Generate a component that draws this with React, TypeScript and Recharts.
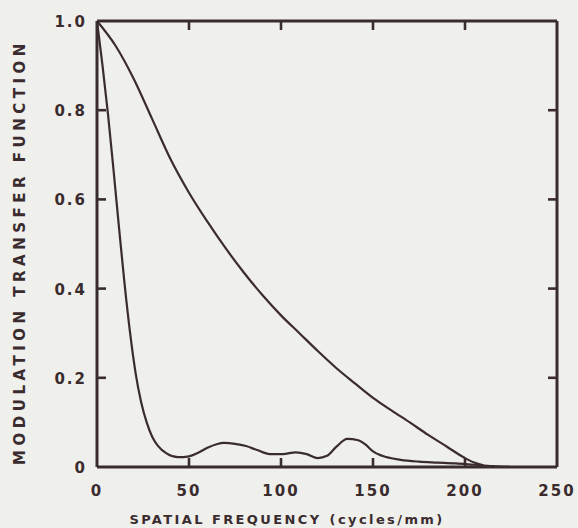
import React from 'react';
import { LineChart, Line, XAxis, YAxis } from 'recharts';

// wide curve (upper)
const wideFreq = [0, 10, 20, 30, 40, 50, 60, 70, 80, 90, 100, 110, 120, 130, 140, 150, 160, 170, 180, 190, 200, 205, 210];
const wideMtf = [1.0, 0.945, 0.87, 0.78, 0.69, 0.615, 0.55, 0.49, 0.435, 0.385, 0.34, 0.3, 0.26, 0.222, 0.188, 0.155, 0.127, 0.1, 0.072, 0.046, 0.02, 0.01, 0.004];

// narrow curve (lower, with ripples)
const narrowFreq = [0, 3, 6, 9, 12, 15, 18, 21, 24, 27, 30, 33, 38, 44, 50, 55, 60, 65, 69, 75, 81, 87, 94, 101, 108, 114, 120, 125, 130, 136, 142, 146, 150, 155, 165, 175, 185, 195, 205, 215, 225];
const narrowMtf = [1.0, 0.9, 0.79, 0.665, 0.535, 0.41, 0.3, 0.21, 0.145, 0.1, 0.068, 0.048, 0.03, 0.022, 0.024, 0.032, 0.043, 0.051, 0.054, 0.052, 0.047, 0.038, 0.029, 0.029, 0.033, 0.029, 0.02, 0.025, 0.045, 0.063, 0.06, 0.05, 0.035, 0.025, 0.016, 0.012, 0.01, 0.008, 0.005, 0.002, 0];

const xTicks = [0, 50, 100, 150, 200, 250];
const yTicks = [0, 0.2, 0.4, 0.6, 0.8, 1.0];

const wideData = wideFreq.map((f, i) => ({ f, v: wideMtf[i] }));
const narrowData = narrowFreq.map((f, i) => ({ f, v: narrowMtf[i] }));

const ink = '#3a2c2e';
const font = '"DejaVu Sans", sans-serif';
const tickLen = 9;
const tickW = 2.6;

const edgeX = (v: number) => v === xTicks[0] || v === xTicks[xTicks.length - 1];
const edgeY = (v: number) => v === yTicks[0] || v === yTicks[yTicks.length - 1];

const BottomTick = ({ x, y, payload }: any) => (
    <g>
        {!edgeX(payload.value) && <path d={`M${x},${y}V${y - tickLen}`} stroke={ink} strokeWidth={tickW} fill="none" />}
        <text x={x} y={y + 29} textAnchor="middle" fill={ink} fontFamily={font} fontWeight="bold" fontSize={15} letterSpacing={2}>
            {payload.value}
        </text>
    </g>
);

const TopTick = ({ x, y, payload }: any) => (
    <g>{!edgeX(payload.value) && <path d={`M${x},${y}V${y + tickLen}`} stroke={ink} strokeWidth={tickW} fill="none" />}</g>
);

const LeftTick = ({ x, y, payload }: any) => (
    <g>
        {!edgeY(payload.value) && <path d={`M${x},${y}H${x + tickLen}`} stroke={ink} strokeWidth={tickW} fill="none" />}
        <text x={x - 10} y={y + 6} textAnchor="end" fill={ink} fontFamily={font} fontWeight="bold" fontSize={15} letterSpacing={2}>
            {payload.value === 0 ? '0' : payload.value.toFixed(1)}
        </text>
    </g>
);

const RightTick = ({ x, y, payload }: any) => (
    <g>{!edgeY(payload.value) && <path d={`M${x},${y}H${x - tickLen}`} stroke={ink} strokeWidth={tickW} fill="none" />}</g>
);

const YTitle = ({ viewBox }: any) => {
    const cx = viewBox.x + 20;
    const cy = viewBox.y + viewBox.height / 2 + 8;
    return (
        <text x={cx} y={cy} transform={`rotate(-90 ${cx} ${cy})`} textAnchor="middle" dominantBaseline="central"
            fill={ink} fontFamily={font} fontWeight="bold" fontSize={15} letterSpacing={4.5}>
            MODULATION TRANSFER FUNCTION
        </text>
    );
};

const XTitle = ({ viewBox }: any) => {
    const cx = viewBox.x + viewBox.width / 2 - 40;
    const cy = viewBox.y + 57;
    return (
        <text x={cx} y={cy} textAnchor="middle" fill={ink} fontFamily={font} fontWeight="bold" fontSize={13} letterSpacing={2.4}>
            <tspan>SPATIAL FREQUENCY</tspan>
            <tspan dx={8}>(cycles/mm)</tspan>
        </text>
    );
};

export default function App() {
    return (
        <div style={{ position: 'absolute', left: 0, top: 0, width: 578, height: 528, background: '#efefec' }}>
            <LineChart width={578} height={528} margin={{ top: 20, right: 20, bottom: 0, left: 0 }}>
                <XAxis xAxisId="b" dataKey="f" type="number" domain={[0, 250]} ticks={xTicks} height={61}
                    axisLine={{ stroke: ink, strokeWidth: 3 }} tickLine={false} tickSize={0} tickMargin={0}
                    tick={(p: any) => <BottomTick {...p} />} interval={0} label={<XTitle />} />
                <XAxis xAxisId="t" orientation="top" dataKey="f" type="number" domain={[0, 250]} ticks={xTicks} height={1}
                    axisLine={{ stroke: ink, strokeWidth: 3 }} tickLine={false} tickSize={0} tickMargin={0}
                    tick={(p: any) => <TopTick {...p} />} interval={0} />
                <YAxis yAxisId="l" type="number" domain={[0, 1]} ticks={yTicks} width={97}
                    axisLine={{ stroke: ink, strokeWidth: 3 }} tickLine={false} tickSize={0} tickMargin={0}
                    tick={(p: any) => <LeftTick {...p} />} interval={0} label={<YTitle />} />
                <YAxis yAxisId="r" orientation="right" type="number" domain={[0, 1]} ticks={yTicks} width={1}
                    axisLine={{ stroke: ink, strokeWidth: 3 }} tickLine={false} tickSize={0} tickMargin={0}
                    tick={(p: any) => <RightTick {...p} />} interval={0} />
                <Line xAxisId="t" yAxisId="l" data={wideData} dataKey="v" type="monotone" stroke={ink}
                    strokeWidth={2.2} dot={false} isAnimationActive={false} />
                <Line xAxisId="b" yAxisId="r" data={narrowData} dataKey="v" type="monotone" stroke={ink}
                    strokeWidth={2.2} dot={false} isAnimationActive={false} />
            </LineChart>
        </div>
    );
}
